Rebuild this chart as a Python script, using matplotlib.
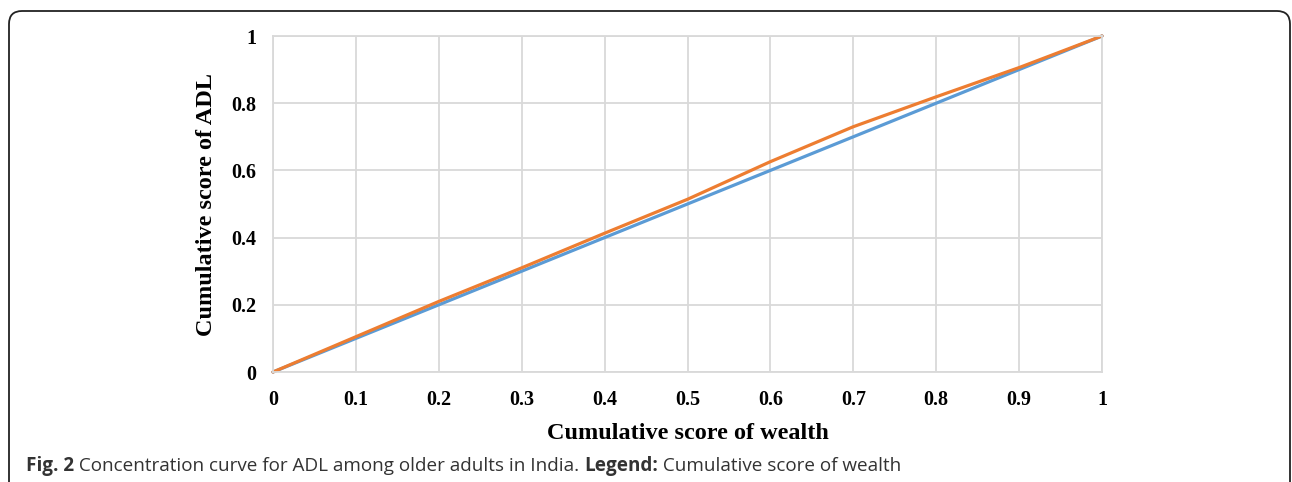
import matplotlib
matplotlib.use("Agg")
import matplotlib.pyplot as plt
from matplotlib.patches import FancyBboxPatch

# Data
wealth = [0.0, 0.1, 0.2, 0.3, 0.4, 0.5, 0.6, 0.7, 0.8, 0.9, 1.0]
equality = [0.0, 0.1, 0.2, 0.3, 0.4, 0.5, 0.6, 0.7, 0.8, 0.9, 1.0]
adl = [0.0, 0.105, 0.21, 0.31, 0.413, 0.514, 0.626, 0.73, 0.819, 0.906, 1.0]
xticks = [0, 0.1, 0.2, 0.3, 0.4, 0.5, 0.6, 0.7, 0.8, 0.9, 1]
xticklabels = ["0", "0.1", "0.2", "0.3", "0.4", "0.5", "0.6", "0.7", "0.8", "0.9", "1"]
yticks = [0, 0.2, 0.4, 0.6, 0.8, 1]
yticklabels = ["0", "0.2", "0.4", "0.6", "0.8", "1"]

W, H = 1292, 482
fig = plt.figure(figsize=(W / 100, H / 100), dpi=100)

# Border (rounded, open at bottom)
border = FancyBboxPatch((0.09, -0.3), 12.81, 4.71 + 0.3,
                        boxstyle="round,pad=0,rounding_size=0.13",
                        transform=fig.dpi_scale_trans, fill=False,
                        edgecolor="#222222", linewidth=1.3)
fig.patches.append(border)

ax = fig.add_axes([273 / W, (H - 372) / H, 829 / W, 336 / H])
ax.set_xlim(0, 1)
ax.set_ylim(0, 1)

grid_c = "#D9D9D9"
ax.set_xticks(xticks)
ax.set_yticks(yticks)
ax.grid(True, color=grid_c, linewidth=1.3)
ax.set_axisbelow(True)
for s in ax.spines.values():
    s.set_color(grid_c)
    s.set_linewidth(1.3)
ax.tick_params(axis="x", length=0, pad=13)
ax.tick_params(axis="y", length=0, pad=12)

serif = {"family": "Liberation Serif", "weight": "bold"}
ax.set_xticklabels(xticklabels, fontdict={**serif, "size": 14.5})
ax.set_yticklabels(yticklabels, fontdict={**serif, "size": 14.5})

ax.plot(wealth, equality, color="#5B9BD5", linewidth=2.3, clip_on=False,
        solid_capstyle="round")
ax.plot(wealth, adl, color="#ED7D31", linewidth=2.3, clip_on=False,
        solid_capstyle="round")

ax.set_xlabel("Cumulative score of wealth", fontdict={**serif, "size": 17.5},
              labelpad=9)
ax.set_ylabel("Cumulative score of ADL", fontdict={**serif, "size": 17.5},
              labelpad=10)

cap_y = 1 - 466 / H
cap_c = "#333333"
fs = 13.6
t1 = fig.text(26 / W, cap_y, "Fig. 2", fontsize=fs, fontweight="bold",
              family="Open Sans", va="center", color=cap_c)
fig.canvas.draw()
r = fig.canvas.get_renderer()
bb = t1.get_window_extent(r)
t2 = fig.text(bb.x1 / W, cap_y, " Concentration curve for ADL among older adults in India. ",
              fontsize=fs, family="Open Sans", va="center", color=cap_c)
bb2 = t2.get_window_extent(r)
t3 = fig.text(bb2.x1 / W, cap_y, "Legend:", fontsize=fs, fontweight="bold",
              family="Open Sans", va="center", color=cap_c)
bb3 = t3.get_window_extent(r)
fig.text(bb3.x1 / W, cap_y, " Cumulative score of wealth", fontsize=fs,
         family="Open Sans", va="center", color=cap_c)

fig.savefig("out.png", dpi=100)
